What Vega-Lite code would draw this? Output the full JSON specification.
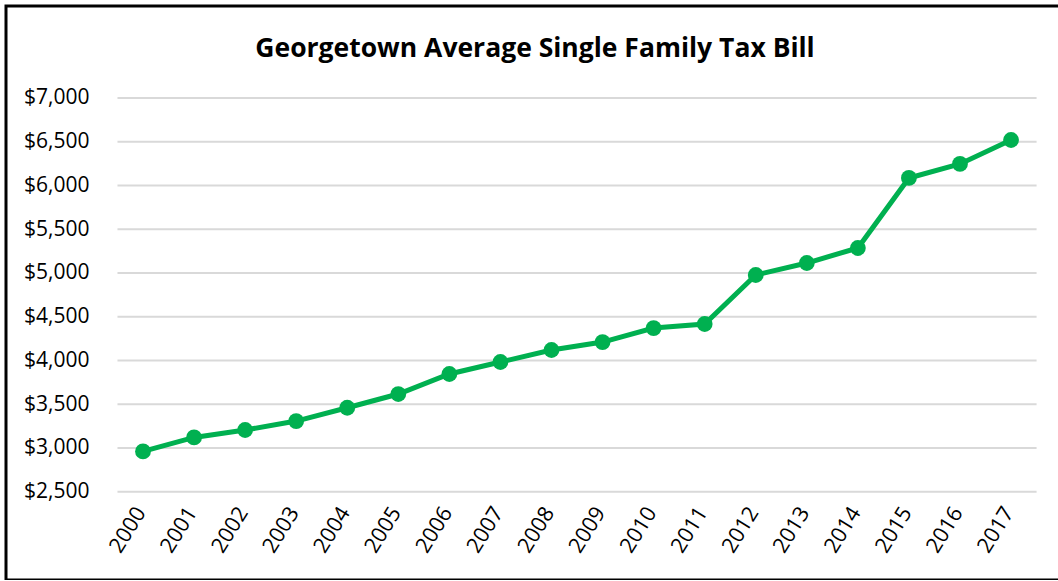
{
  "$schema": "https://vega.github.io/schema/vega-lite/v6.json",
  "width": 1058,
  "height": 574,
  "autosize": {"type": "none"},
  "padding": {"left": 6, "top": 6, "right": 0, "bottom": 0},
  "background": "white",
  "title": {
    "text": "Georgetown Average Single Family Tax Bill",
    "font": "Open Sans",
    "fontSize": 26.5,
    "fontWeight": "bold",
    "color": "#000000",
    "anchor": "middle",
    "frame": "group",
    "offset": -56
  },
  "config": {
    "view": {"stroke": "#000000", "strokeWidth": 3}
  },
  "datasets": {
    "tax": [
      {"year": 2000, "value": 2960},
      {"year": 2001, "value": 3120},
      {"year": 2002, "value": 3205},
      {"year": 2003, "value": 3307},
      {"year": 2004, "value": 3459},
      {"year": 2005, "value": 3616},
      {"year": 2006, "value": 3845},
      {"year": 2007, "value": 3982},
      {"year": 2008, "value": 4119},
      {"year": 2009, "value": 4210},
      {"year": 2010, "value": 4370},
      {"year": 2011, "value": 4416},
      {"year": 2012, "value": 4976},
      {"year": 2013, "value": 5113},
      {"year": 2014, "value": 5285},
      {"year": 2015, "value": 6085},
      {"year": 2016, "value": 6245},
      {"year": 2017, "value": 6519}
    ],
    "grid": [
      {"g": 2500}, {"g": 3000}, {"g": 3500}, {"g": 4000}, {"g": 4500},
      {"g": 5000}, {"g": 5500}, {"g": 6000}, {"g": 6500}, {"g": 7000}
    ]
  },
  "layer": [
    {
      "data": {"name": "grid"},
      "mark": {"type": "rule", "color": "#d9d9d9", "strokeWidth": 2},
      "encoding": {
        "y": {
          "field": "g",
          "type": "quantitative",
          "scale": {"domain": [1491, 8050], "nice": false, "zero": false},
          "axis": {
            "values": [2500, 3000, 3500, 4000, 4500, 5000, 5500, 6000, 6500, 7000],
            "format": "$,.0f",
            "grid": false,
            "domain": false,
            "ticks": false,
            "labelPadding": 0,
            "offset": -83,
            "labelFont": "Open Sans",
            "labelFontSize": 21,
            "labelColor": "#000000",
            "title": null
          }
        },
        "x": {
          "datum": 1999.5,
          "type": "quantitative",
          "scale": {"domain": [1997.317, 2018.037], "nice": false, "zero": false},
          "axis": {
            "values": [2000, 2001, 2002, 2003, 2004, 2005, 2006, 2007, 2008, 2009, 2010, 2011, 2012, 2013, 2014, 2015, 2016, 2017],
            "format": "d",
            "labelAngle": -58,
            "labelAlign": "right",
            "labelBaseline": "middle",
            "grid": false,
            "domain": false,
            "ticks": false,
            "offset": -88,
            "labelPadding": 17,
            "labelOffset": -2,
            "labelFont": "Open Sans",
            "labelFontSize": 21.5,
            "labelColor": "#000000",
            "title": null
          }
        },
        "x2": {"datum": 2017.5}
      }
    },
    {
      "data": {"name": "tax"},
      "mark": {"type": "line", "color": "#00b050", "strokeWidth": 5},
      "encoding": {
        "x": {"field": "year", "type": "quantitative"},
        "y": {"field": "value", "type": "quantitative"}
      }
    },
    {
      "data": {"name": "tax"},
      "mark": {"type": "point", "filled": true, "color": "#00b050", "size": 250, "opacity": 1},
      "encoding": {
        "x": {"field": "year", "type": "quantitative"},
        "y": {"field": "value", "type": "quantitative"}
      }
    }
  ]
}
